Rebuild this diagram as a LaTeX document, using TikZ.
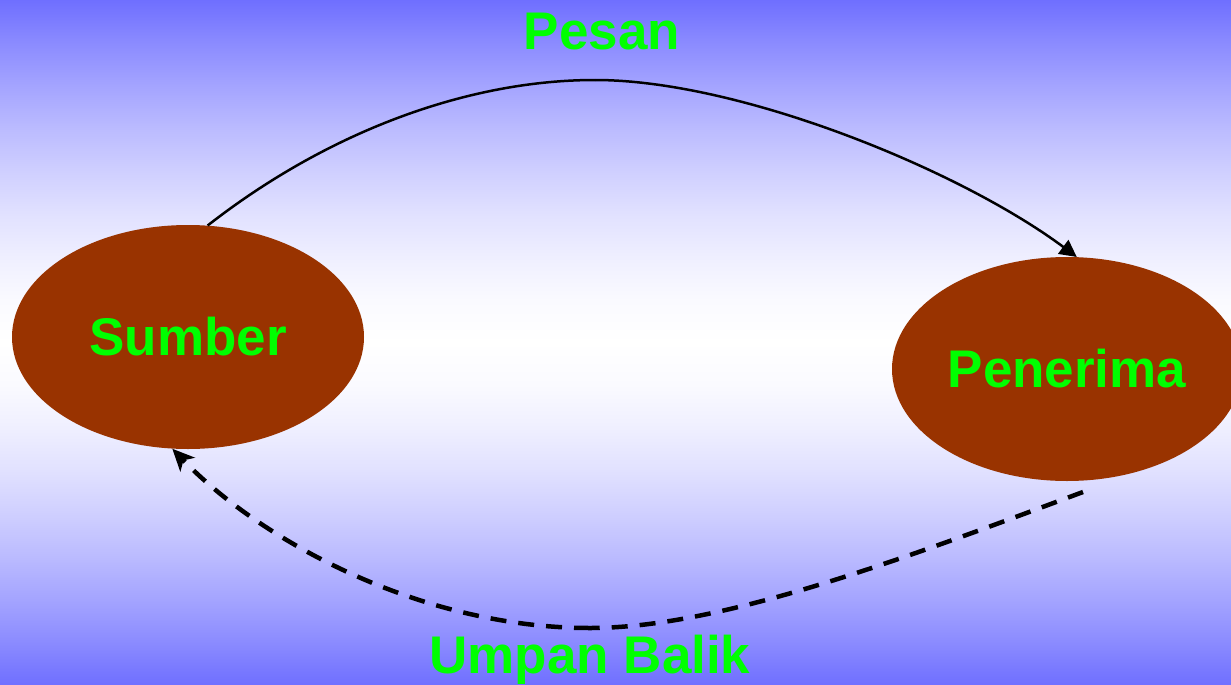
\documentclass[tikz,border=0pt]{standalone}
\usepackage{fontspec}
\setmainfont{Liberation Sans}
\usetikzlibrary{shapes.geometric,arrows.meta}
\definecolor{brown}{RGB}{153,51,0}
\definecolor{lbl}{RGB}{0,255,0}
\pgfdeclareverticalshading{bgshade}{100bp}{
  rgb(0bp)=(0.435,0.435,1);
  rgb(25bp)=(0.435,0.435,1);
  rgb(28.125bp)=(0.545,0.545,1);
  rgb(31.25bp)=(0.643,0.643,1);
  rgb(34.375bp)=(0.733,0.733,1);
  rgb(37.5bp)=(0.812,0.812,1);
  rgb(40.625bp)=(0.882,0.882,1);
  rgb(43.75bp)=(0.937,0.937,1);
  rgb(46.875bp)=(0.98,0.98,1);
  rgb(50bp)=(1,1,1);
  rgb(53.125bp)=(0.98,0.98,1);
  rgb(56.25bp)=(0.937,0.937,1);
  rgb(59.375bp)=(0.882,0.882,1);
  rgb(62.5bp)=(0.812,0.812,1);
  rgb(65.625bp)=(0.733,0.733,1);
  rgb(68.75bp)=(0.643,0.643,1);
  rgb(71.875bp)=(0.545,0.545,1);
  rgb(75bp)=(0.435,0.435,1);
  rgb(100bp)=(0.435,0.435,1)}
\tikzset{
  blob/.style={ellipse, fill=brown, inner sep=0pt, minimum width=352pt, minimum height=224pt,
    font=\fontsize{53}{53}\selectfont\bfseries, text=lbl},
  lab/.style={font=\fontsize{53}{53}\selectfont\bfseries, text=lbl, anchor=base, inner sep=0pt},
  msg/.style={line width=2.5pt, -{Triangle[length=17pt,width=17pt]}},
  fb/.style={line width=4.5pt, dash pattern=on 16pt off 12pt, -{Stealth[length=22pt,width=20pt,inset=6pt]}}
}
\begin{document}
\begin{tikzpicture}[x=1pt,y=-1pt]
\useasboundingbox (0,0) rectangle (1231,685);
\clip (0,0) rectangle (1231,685);
\shade[shading=bgshade] (0,0) rectangle (1231,685);
\node[blob] (sumber) at (188,337) {Sumber};
\node[blob, minimum width=350pt] (penerima) at (1067,369) {Penerima};
\node[lab] (pesan) at (602,49) {Pesan};
\node[lab] (umpan) at (590,673) {Umpan Balik};
\coordinate (top) at (595,80);
\coordinate (bot) at (590,628);
\coordinate (fbs) at (1083,492);
\draw[line width=2.5pt] (sumber.80) .. controls (330,130) and (470,80) .. (top);
\draw[msg] (top) .. controls (740,80) and (960,170) .. (penerima.85);
\draw[fb, -] (fbs) .. controls (900,560) and (720,628) .. (bot);
\draw[fb] (bot) .. controls (420,628) and (260,540) .. (sumber.262);
\end{tikzpicture}
\end{document}
